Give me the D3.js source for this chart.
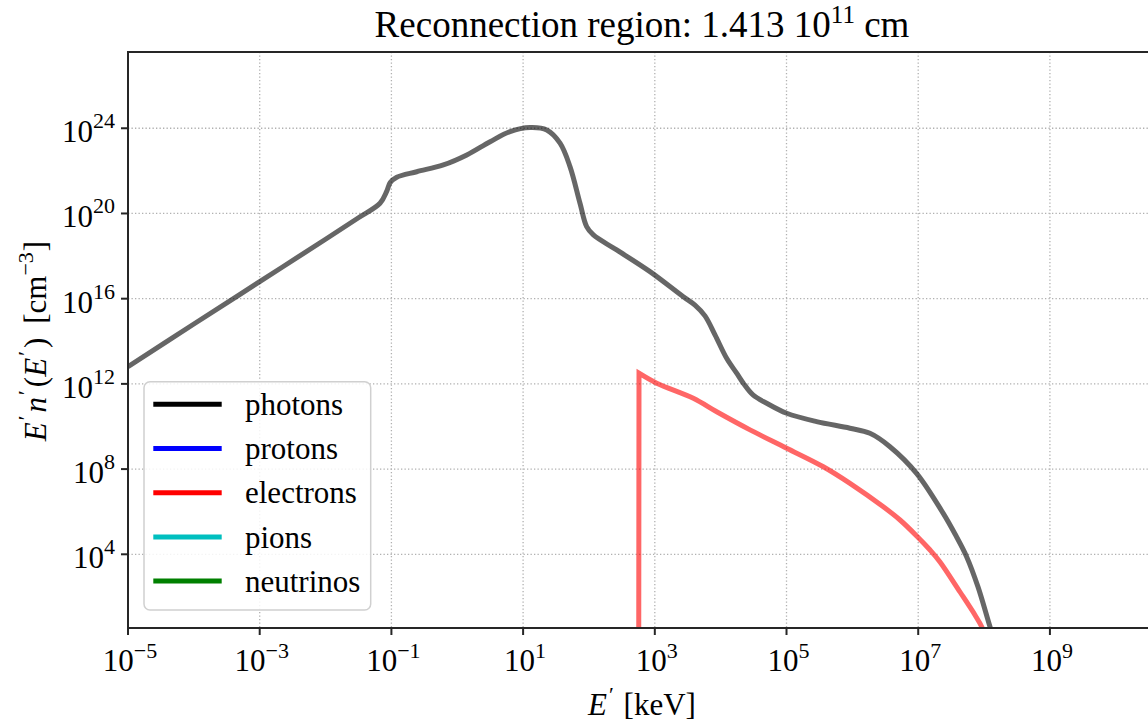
<!DOCTYPE html>
<html>
<head>
<meta charset="utf-8">
<script src="https://cdn.jsdelivr.net/npm/d3@7"></script>
<style>
  html, body { margin: 0; padding: 0; background: #fff; }
  svg { display: block; font-family: "Liberation Serif", "Times New Roman", serif; }
</style>
</head>
<body>
<svg id="chart" width="1148" height="724"></svg>
<script>
// ---- data (log10 values) ----
const photonLog10E = [-5.000, -4.0, -3.0, -2.0, -1.5, -1.173, -1.07, -1.018, -0.919, -0.615, -0.211, 0.145, 0.499, 0.802, 1.105, 1.359, 1.561, 1.712, 1.864, 1.965, 2.067, 2.421, 2.927, 3.433, 3.610, 3.762, 3.914, 4.091, 4.243, 4.344, 4.491, 4.699, 5.003, 5.457, 5.963, 6.267, 6.571, 6.975, 7.380, 7.559, 7.735, 7.908, 8.090, 8.2];
const photonLog10N = [12.81, 14.81, 16.80, 18.79, 19.80, 20.48, 21.05, 21.45, 21.70, 21.96, 22.28, 22.75, 23.37, 23.84, 24.03, 23.92, 23.30, 22.20, 20.48, 19.38, 18.99, 18.29, 17.27, 16.09, 15.70, 15.19, 14.30, 13.20, 12.50, 12.03, 11.48, 11.09, 10.62, 10.23, 9.92, 9.68, 9.05, 7.80, 5.92, 4.95, 3.89, 2.47, 0.60, -0.5];
const electronLog10E = [2.755, 2.76, 3.029, 3.585, 3.940, 4.446, 5.003, 5.559, 5.964, 6.470, 6.724, 6.977, 7.180, 7.331, 7.635, 7.862, 7.964, 8.05];
const electronLog10N = [-3.0, 12.50, 12.03, 11.32, 10.69, 9.84, 8.98, 8.11, 7.33, 6.23, 5.61, 4.86, 4.20, 3.64, 2.23, 1.15, 0.60, -0.1];

const legendLabels = ["photons", "protons", "electrons", "pions", "neutrinos"];
const legendColors = ["#000000", "#0000ff", "#ff0000", "#00bfbf", "#008000"];
const xTickExponents = [-5, -3, -1, 1, 3, 5, 7, 9];
const yTickExponents = [4, 8, 12, 16, 20, 24];
const titleText = "Reconnection region: 1.413 10";
const titleSup = "11";
const titleTail = " cm";

// ---- layout ----
const pLeft = 128, pRight = 1156, pTop = 52, pBottom = 628;
const svg = d3.select("#chart");

const x = d3.scaleLog().domain([1e-5, Math.pow(10, 10.611)]).range([pLeft, pRight]);
const y = d3.scaleLog().domain([Math.pow(10, 0.54), Math.pow(10, 27.58)]).range([pBottom, pTop]);

const FS = 31, SUP = 22;

// clip
svg.append("defs").append("clipPath").attr("id", "plotclip")
  .append("rect").attr("x", pLeft).attr("y", pTop).attr("width", pRight - pLeft).attr("height", pBottom - pTop);

// grid
const grid = svg.append("g");
xTickExponents.concat([11]).forEach(e => {
  const px = x(Math.pow(10, e));
  grid.append("line").attr("x1", px).attr("x2", px).attr("y1", pTop).attr("y2", pBottom)
    .attr("stroke", "#b0b0b0").attr("stroke-width", 1.3).attr("stroke-dasharray", "1.3,2.2");
});
yTickExponents.forEach(e => {
  const py = y(Math.pow(10, e));
  grid.append("line").attr("x1", pLeft).attr("x2", pRight).attr("y1", py).attr("y2", py)
    .attr("stroke", "#b0b0b0").attr("stroke-width", 1.3).attr("stroke-dasharray", "1.3,2.2");
});

// lines
const plot = svg.append("g").attr("clip-path", "url(#plotclip)");
const photonPts = photonLog10E.map((e, i) => [Math.pow(10, e), Math.pow(10, photonLog10N[i])]);
const electronPts = electronLog10E.map((e, i) => [Math.pow(10, e), Math.pow(10, electronLog10N[i])]);
const lineSmooth = d3.line().x(d => x(d[0])).y(d => y(d[1])).curve(d3.curveCatmullRom.alpha(0.5));

plot.append("path").attr("d", lineSmooth(photonPts))
  .attr("fill", "none").attr("stroke", "#000").attr("stroke-opacity", 0.6)
  .attr("stroke-width", 5).attr("stroke-linejoin", "round");

const e0 = electronPts[0];
const electronD = `M${x(e0[0])},${y(e0[1])}` + lineSmooth(electronPts.slice(1)).replace(/^M/, "L");
plot.append("path").attr("d", electronD)
  .attr("fill", "none").attr("stroke", "#ff0000").attr("stroke-opacity", 0.6)
  .attr("stroke-width", 5).attr("stroke-linejoin", "miter");

// spines
const spineColor = "#262626";
svg.append("line").attr("x1", pLeft).attr("x2", pLeft).attr("y1", pTop - 1).attr("y2", pBottom + 1)
  .attr("stroke", spineColor).attr("stroke-width", 2);
svg.append("line").attr("x1", pLeft - 1).attr("x2", pRight).attr("y1", pBottom).attr("y2", pBottom)
  .attr("stroke", spineColor).attr("stroke-width", 2);
svg.append("line").attr("x1", pLeft - 1).attr("x2", pRight).attr("y1", pTop).attr("y2", pTop)
  .attr("stroke", spineColor).attr("stroke-width", 2);

// x ticks
xTickExponents.forEach(e => {
  const px = x(Math.pow(10, e));
  svg.append("line").attr("x1", px).attr("x2", px).attr("y1", pBottom).attr("y2", pBottom + 7)
    .attr("stroke", spineColor).attr("stroke-width", 2);
  const t = svg.append("text").attr("x", px + 2).attr("y", 671).attr("text-anchor", "middle")
    .attr("font-size", FS).attr("fill", "#000");
  t.append("tspan").text("10");
  t.append("tspan").attr("dy", -13).attr("font-size", SUP).text(String(e).replace("-", "\u2212"));
});

// y ticks
yTickExponents.forEach(e => {
  const py = y(Math.pow(10, e));
  svg.append("line").attr("x1", pLeft - 7).attr("x2", pLeft).attr("y1", py).attr("y2", py)
    .attr("stroke", spineColor).attr("stroke-width", 2);
  const t = svg.append("text").attr("x", 115).attr("y", py + 14).attr("text-anchor", "end")
    .attr("font-size", FS).attr("fill", "#000");
  t.append("tspan").text("10");
  t.append("tspan").attr("dy", -14).attr("font-size", SUP).text(String(e));
});

// title
const cx = (pLeft + pRight) / 2;
const tt = svg.append("text").attr("x", cx).attr("y", 37).attr("text-anchor", "middle")
  .attr("font-size", 37).attr("fill", "#000");
tt.append("tspan").text(titleText);
tt.append("tspan").attr("dy", -14).attr("font-size", 25).text(titleSup);
tt.append("tspan").attr("dy", 14).text(titleTail);

// x label
const xl = svg.append("text").attr("x", cx).attr("y", 715).attr("text-anchor", "middle")
  .attr("font-size", FS).attr("fill", "#000");
xl.append("tspan").attr("font-style", "italic").text("E");
xl.append("tspan").attr("dy", -13).attr("dx", 2).attr("font-size", SUP).text("\u2032");
xl.append("tspan").attr("dy", 13).attr("dx", 2).text(" [keV]");

// y label
const yl = svg.append("text").attr("transform", `translate(46,${(pTop + pBottom) / 2 + 1}) rotate(-90)`)
  .attr("text-anchor", "middle").attr("font-size", FS).attr("fill", "#000");
yl.append("tspan").attr("font-style", "italic").text("E");
yl.append("tspan").attr("dy", -13).attr("dx", 2).attr("font-size", SUP).text("\u2032");
yl.append("tspan").attr("dy", 13).attr("dx", 3).attr("font-style", "italic").text("n");
yl.append("tspan").attr("dy", -13).attr("dx", 2).attr("font-size", SUP).text("\u2032");
yl.append("tspan").attr("dy", 13).attr("dx", 3).text("(");
yl.append("tspan").attr("font-style", "italic").text("E");
yl.append("tspan").attr("dy", -13).attr("dx", 2).attr("font-size", SUP).text("\u2032");
yl.append("tspan").attr("dy", 13).attr("dx", 3).text(")\u2009 [cm");
yl.append("tspan").attr("dy", -13).attr("font-size", SUP).text("\u22123");
yl.append("tspan").attr("dy", 13).attr("dx", 1).text("]");

// legend
const lg = svg.append("g");
lg.append("rect").attr("x", 144).attr("y", 381.7).attr("width", 226.7).attr("height", 228.3)
  .attr("rx", 6).attr("ry", 6).attr("fill", "#fff").attr("fill-opacity", 0.85)
  .attr("stroke", "#d0d0d0").attr("stroke-width", 1.5);
legendLabels.forEach((lab, i) => {
  const ry = 404.3 + i * 44.2;
  lg.append("line").attr("x1", 153.3).attr("x2", 221.7).attr("y1", ry).attr("y2", ry)
    .attr("stroke", legendColors[i]).attr("stroke-width", 5);
  lg.append("text").attr("x", 245).attr("y", ry + 10.7).attr("font-size", FS).attr("fill", "#000").text(lab);
});
</script>
</body>
</html>
